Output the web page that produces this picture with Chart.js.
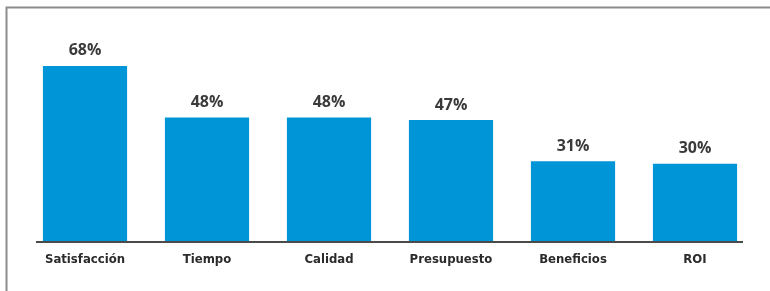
<!DOCTYPE html>
<html>
<head>
<meta charset="utf-8">
<script src="https://cdn.jsdelivr.net/npm/chart.js@4"></script>
<style>
  html, body { margin: 0; padding: 0; background: #fff; }
  #wrap { width: 770px; height: 291px; }
</style>
</head>
<body>
<div id="wrap"><canvas id="myChart" width="770" height="291"></canvas></div>
<script>
// chart data
var categories = ['Satisfacción', 'Tiempo', 'Calidad', 'Presupuesto', 'Beneficios', 'ROI'];
var values = [68, 48, 48, 47, 31, 30];
var valueLabels = ['68%', '48%', '48%', '47%', '31%', '30%'];

// frame, axis line and value labels
var decor = {
    id: 'decor',
    beforeDraw: function (chart) {
        var c = chart.ctx;
        c.save();
        c.strokeStyle = '#8c8c8c';
        c.lineWidth = 2;
        c.beginPath();
        c.moveTo(6.5, 291);
        c.lineTo(6.5, 7.5);
        c.lineTo(770, 7.5);
        c.stroke();
        c.restore();
    },
    afterDatasetsDraw: function (chart) {
        var c = chart.ctx;
        var area = chart.chartArea;
        c.save();
        c.strokeStyle = '#4a4a4a';
        c.lineWidth = 2;
        c.beginPath();
        c.moveTo(area.left + 12, area.bottom + 1);
        c.lineTo(area.right - 13, area.bottom + 1);
        c.stroke();

        c.fillStyle = '#3a3a3a';
        c.font = 'bold 16px "Open Sans", sans-serif';
        c.textAlign = 'center';
        c.textBaseline = 'bottom';
        chart.getDatasetMeta(0).data.forEach(function (bar, i) {
            c.fillText(valueLabels[i], bar.x, bar.y - 7);
        });
        c.restore();
    }
};

var ctx = document.getElementById('myChart').getContext('2d');
var myChart = new Chart(ctx, {
    type: 'bar',
    data: {
        labels: categories,
        datasets: [{
            data: values,
            backgroundColor: '#0095d6',
            borderWidth: 0,
            barPercentage: 0.69,
            categoryPercentage: 1
        }]
    },
    options: {
        responsive: false,
        animation: false,
        layout: { padding: { left: 24, right: 14, top: 35, bottom: 0 } },
        plugins: {
            legend: { display: false },
            tooltip: { enabled: false }
        },
        scales: {
            x: {
                grid: { display: false, drawTicks: false },
                border: { display: false },
                ticks: {
                    color: '#2b2b2b',
                    padding: 11,
                    font: { family: '"DejaVu Sans Condensed", sans-serif', size: 13, weight: 'bold' }
                },
                afterFit: function (scale) { scale.height = 50; }
            },
            y: {
                display: false,
                min: 0,
                max: 80
            }
        }
    },
    plugins: [decor]
});
</script>
</body>
</html>
